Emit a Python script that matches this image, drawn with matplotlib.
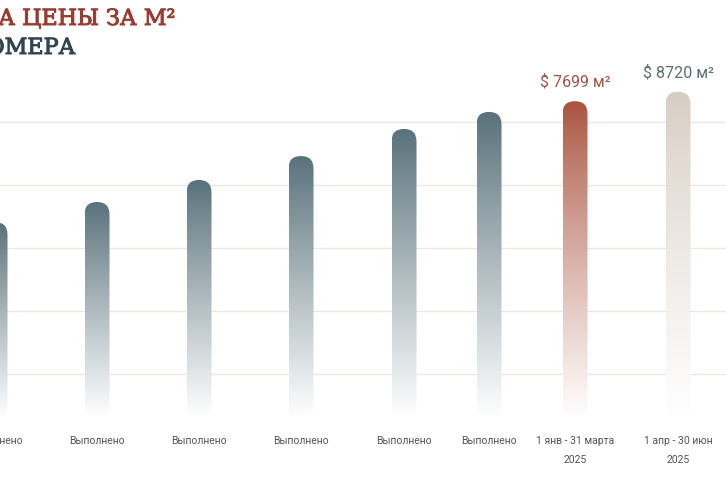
import numpy as np
import matplotlib.pyplot as plt
import matplotlib.patheffects as pe
from matplotlib.patches import FancyBboxPatch
from matplotlib.colors import to_rgb

# bar heights (index), labels
heights = [3410, 3730, 4080, 4460, 4890, 5160, 5330, 5480]
tick_top = ["Выполнено"] * 6 + ["1 янв - 31 марта", "1 апр - 30 июн"]
tick_bot = [""] * 6 + ["2025", "2025"]
price_labels = [None] * 6 + ["$ 7699 м²", "$ 8720 м²"]
grid_vals = [1000, 2000, 3000, 4000, 5000]

# layout (pixel x positions of bar centres)
xpos = [-5, 97, 199, 301, 404, 489, 575, 678]
bar_w = 25
bar_base = 300
top_colors = ["#58717a"] * 6 + ["#a9513c", "#d6ccc2"]
label_colors = [None] * 6 + ["#a5503d", "#5c6c72"]
fade_power = [0.95] * 6 + [0.85, 0.8]

W, H = 726, 485
fig = plt.figure(figsize=(W / 100, H / 100), dpi=100)
ax = fig.add_axes([0, 0, 1, 1])
px = 1000 / 63  # data units per pixel vertically
ax.set_xlim(0, W)
ax.set_ylim(-(H - 438) * px, 438 * px)
ax.axis("off")

for g in grid_vals:
    ax.axhline(g, color="#ebe7e1", lw=1, zorder=0)

n = 256
for i, h in enumerate(heights):
    x0 = xpos[i] - bar_w / 2
    rgb = np.array(to_rgb(top_colors[i]))
    t = np.linspace(0, 1, n)[:, None]  # 0 top -> 1 bottom
    mix = t ** fade_power[i]
    col = rgb * (1 - mix) + np.ones(3) * mix
    img = np.dstack([col[:, 0:1], col[:, 1:2], col[:, 2:3], np.ones((n, 1))])
    im = ax.imshow(img, extent=[x0, x0 + bar_w, bar_base, h], aspect="auto",
                   interpolation="bilinear", zorder=2)
    patch = FancyBboxPatch((x0, bar_base), bar_w, h - bar_base,
                           boxstyle="round,pad=0,rounding_size=12.5",
                           mutation_aspect=px, facecolor="none", edgecolor="none")
    ax.add_patch(patch)
    im.set_clip_path(patch)

    ax.text(xpos[i], -(441 - 438) * px, tick_top[i], ha="center", va="center",
            fontsize=7.5, color="#50555a", family="Roboto")
    if tick_bot[i]:
        ax.text(xpos[i], -(460 - 438) * px, tick_bot[i], ha="center", va="center",
                fontsize=7.5, color="#50555a", family="Roboto")
    if price_labels[i]:
        ax.text(xpos[i], h + 20 * px, price_labels[i], ha="center", va="center",
                fontsize=11.5, color=label_colors[i], family="Roboto")

t1 = fig.text(176 / W, 1 - 20 / H, "ДИНАМИКА ЦЕНЫ ЗА М²", ha="right", va="center",
              fontsize=16, color="#9a3b30", family="DejaVu Serif")
t2 = fig.text(76 / W, 1 - 49 / H, "СТАНДАРТНОГО НОМЕРА", ha="right", va="center",
              fontsize=16, color="#2f4651", family="DejaVu Serif")
t1.set_path_effects([pe.withStroke(linewidth=0.7, foreground="#9a3b30")])
t2.set_path_effects([pe.withStroke(linewidth=0.7, foreground="#2f4651")])

fig.savefig("out.png", dpi=100, facecolor="white")
